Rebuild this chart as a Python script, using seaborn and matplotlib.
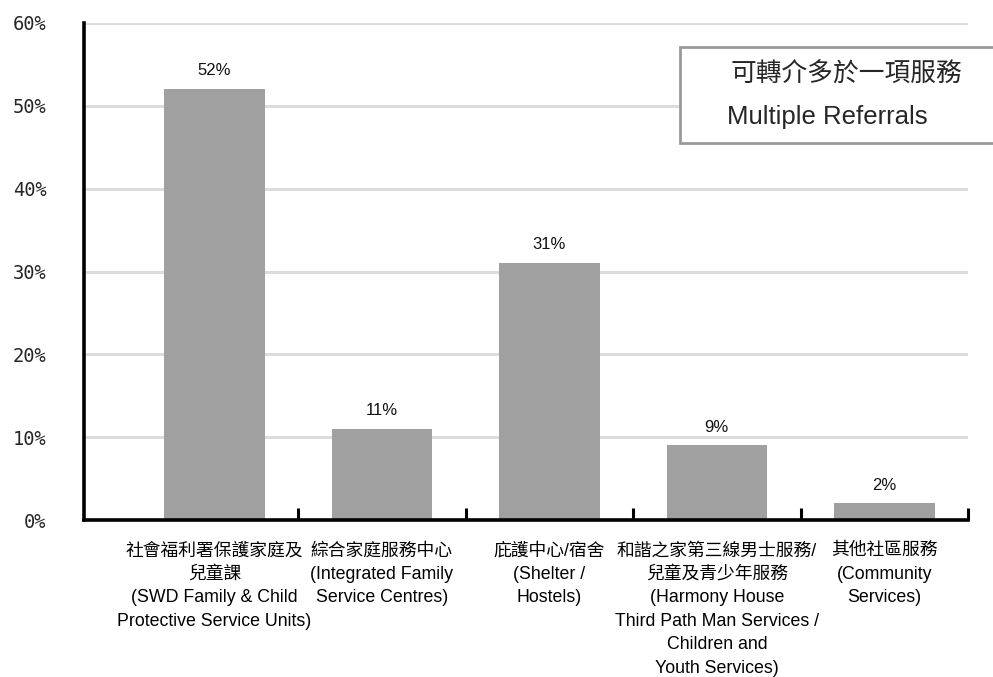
import matplotlib
matplotlib.use("Agg")
import matplotlib.pyplot as plt
import seaborn as sns
import pandas as pd
from matplotlib.patches import Rectangle

categories = [
    "社會福利署保護家庭及\n兒童課\n(SWD Family & Child\nProtective Service Units)",
    "綜合家庭服務中心\n(Integrated Family\nService Centres)",
    "庇護中心/宿舍\n(Shelter /\nHostels)",
    "和諧之家第三線男士服務/\n兒童及青少年服務\n(Harmony House\nThird Path Man Services /\nChildren and\nYouth Services)",
    "其他社區服務\n(Community\nServices)",
]
values = [52, 11, 31, 9, 2]
y_ticks = [0, 10, 20, 30, 40, 50, 60]
y_tick_labels = [f"{v}%" for v in y_ticks]
legend_lines = ["可轉介多於一項服務", "Multiple Referrals"]

sns.set_style("white")
cjk = ["Noto Sans CJK TC", "DejaVu Sans"]
latin_cjk = ["Liberation Sans", "Noto Sans CJK TC", "DejaVu Sans"]
plt.rcParams["font.family"] = latin_cjk

df = pd.DataFrame({"category": categories, "value": values})

fig = plt.figure(figsize=(9.93, 6.77), dpi=100)
ax = fig.add_axes([84 / 993, 157 / 677, (968 - 84) / 993, (654 - 157) / 677])

sns.barplot(data=df, x="category", y="value", color="#a0a0a0", width=0.6,
            saturation=1, edgecolor="none", ax=ax, zorder=3)

ax.set_xlim(-0.779, 4.5)
ax.set_ylim(0, 60)
ax.set_xlabel("")
ax.set_ylabel("")

# horizontal gridlines
for v in y_ticks[1:]:
    ax.axhline(v, color="#dcdcdc", lw=2.2, zorder=1)

# value labels
for i, v in enumerate(values):
    ax.text(i, v + 1.3, f"{v}%", ha="center", va="bottom", fontsize=12,
            family=["Liberation Sans", "DejaVu Sans"], color="#111111", zorder=4)

# axes styling
for side in ["top", "right"]:
    ax.spines[side].set_visible(False)
for side in ["left", "bottom"]:
    ax.spines[side].set_color("black")
    ax.spines[side].set_linewidth(2.6)
    ax.spines[side].set_zorder(5)

ax.set_yticks(y_ticks)
ax.set_yticklabels(y_tick_labels, family=["DejaVu Sans Mono"], fontsize=13.5)
ax.tick_params(axis="y", length=0, pad=27)

ax.set_xticks(range(len(categories)))
ax.set_xticklabels(categories, fontsize=12.8, linespacing=1.5, color="black")
ax.tick_params(axis="x", which="major", length=0, pad=16)
ax.set_xticks([0.5, 1.5, 2.5, 3.5, 4.5], minor=True)
ax.tick_params(axis="x", which="minor", bottom=True, direction="in", length=9,
               width=2.2, color="black")

# boxed note in the upper right
fig.patches.append(Rectangle((680 / 993, (677 - 143) / 677), 330 / 993, 96 / 677,
                             transform=fig.transFigure, facecolor="white",
                             edgecolor="#9a9a9a", lw=2, zorder=10))
fig.text(846 / 993, (677 - 75) / 677, legend_lines[0], ha="center", va="center",
         fontsize=18.5, family=cjk, zorder=11)
fig.text(727 / 993, (677 - 117) / 677, legend_lines[1], ha="left", va="center",
         fontsize=18.5, family=["Liberation Sans", "DejaVu Sans"], zorder=11)

fig.savefig("out.png", dpi=100)
